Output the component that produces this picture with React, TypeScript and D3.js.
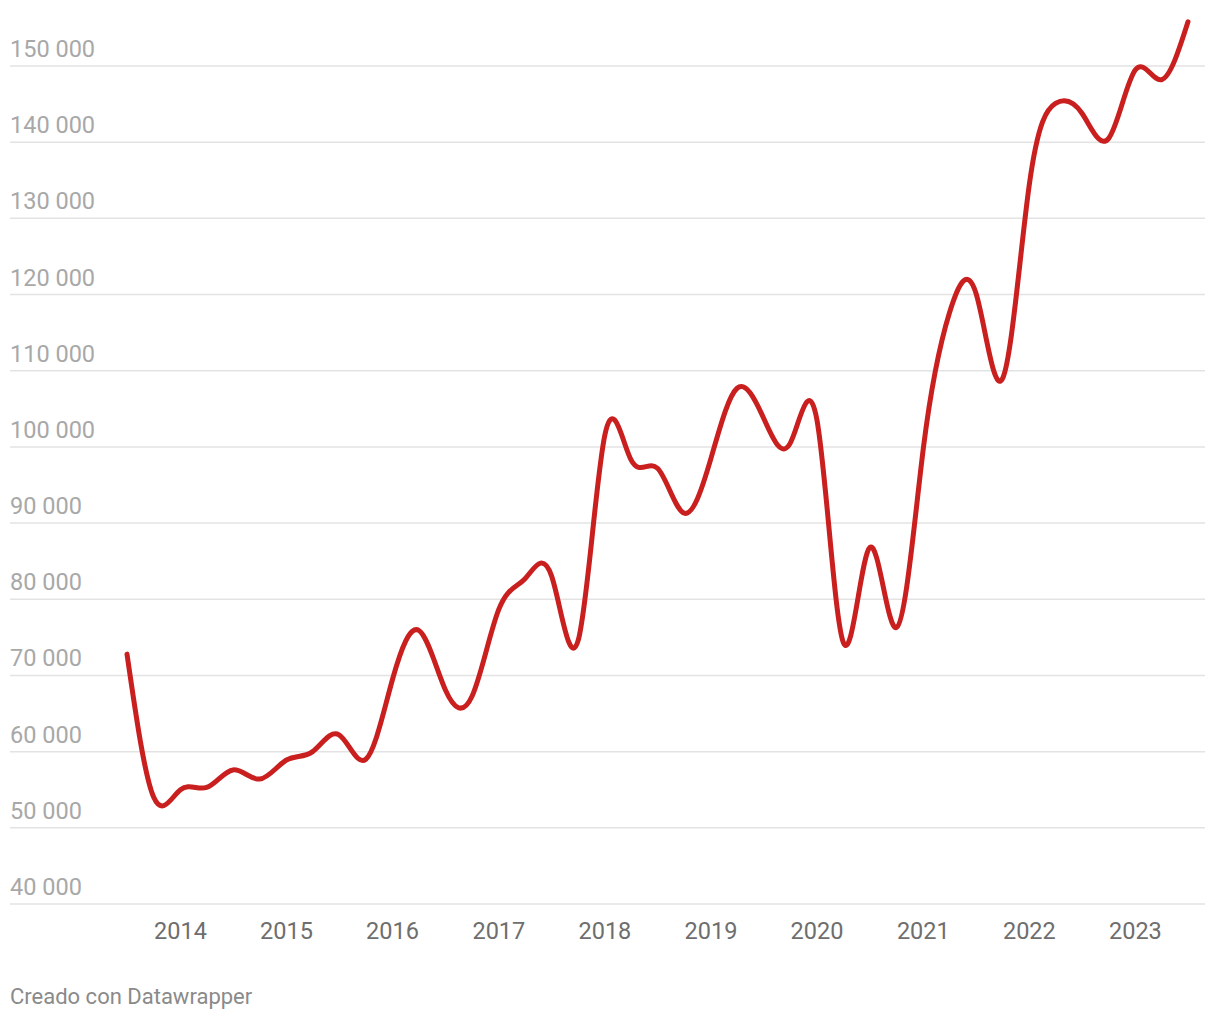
import React from 'react';
import * as d3 from 'd3';

// quarterly values, 2013 Q3 -> 2023 Q3
const startYear = 2013;
const startMonth = 6; // July
const values = [
  72800, 54000, 55000, 55300, 57600, 56400, 58900, 60000, 62200, 59000,
  69500, 75900, 68100, 67300, 78700, 82700, 83100, 74600, 101600, 98300,
  97200, 91300, 98500, 107700, 103800, 100500, 103500, 74300, 86800, 76300,
  99800, 117600, 120200, 109000, 134500, 145100, 143800, 140500, 149500, 148200,
  155800,
];
const yTicks = [40000, 50000, 60000, 70000, 80000, 90000, 100000, 110000, 120000, 130000, 140000, 150000];
const yearTicks = [2014, 2015, 2016, 2017, 2018, 2019, 2020, 2021, 2022, 2023];
const credit = 'Creado con Datawrapper';

const W = 1220, H = 1020;

export default function App() {
  const data = values.map((v, i) => ({ date: new Date(startYear, startMonth + i * 3, 1), value: v }));

  const x = d3.scaleTime()
    .domain([data[0].date, data[data.length - 1].date])
    .range([127, 1188]);
  const y = d3.scaleLinear().domain([40000, 150000]).range([904, 66]);

  const fmt = d3.formatLocale({ decimal: ',', thousands: '\u00a0', grouping: [3], currency: ['', '€'] }).format(',d');

  const line = d3.line<{ date: Date; value: number }>()
    .x(d => x(d.date))
    .y(d => y(d.value))
    .curve(d3.curveNatural);

  const font = 'Roboto, sans-serif';

  return (
    <svg width={W} height={H} style={{ position: 'absolute', left: 0, top: 0, background: '#fff' }}>
      <g>
        {yTicks.map(t => (
          <g key={t}>
            <line x1={10} x2={1205} y1={y(t)} y2={y(t)} stroke="#e3e3e3" strokeWidth={1.5} />
            <text x={10} y={y(t) - 9} fontFamily={font} fontSize={23.5} fill="#a8a8a8">{fmt(t)}</text>
          </g>
        ))}
      </g>
      <g>
        {yearTicks.map(yr => (
          <text key={yr} x={x(new Date(yr, 0, 1))} y={939} textAnchor="middle" fontFamily={font} fontSize={23.5} fill="#6e6e6e">{yr}</text>
        ))}
      </g>
      <path d={line(data) || ''} fill="none" stroke="#c91f1f" strokeWidth={5} strokeLinecap="round" strokeLinejoin="round" />
      <text x={10} y={1004} fontFamily={font} fontSize={22} fill="#8a8a8a">{credit}</text>
    </svg>
  );
}
